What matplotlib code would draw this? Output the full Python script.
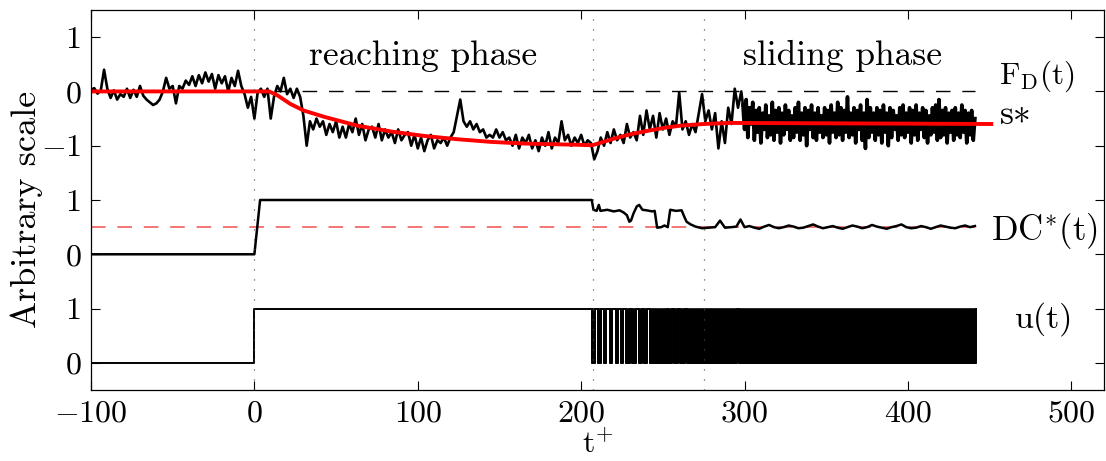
import numpy as np
import matplotlib
matplotlib.use("Agg")
import matplotlib.pyplot as plt

# ---------------- data ----------------
# Disturbance force F_D(t): slow part sampled every 2 time units from t = -100
fd_slow = [
    0.03, 0.06, -0.04, 0.02, 0.40, 0.05, -0.12, 0.02, -0.15, -0.05,
    -0.10, 0.05, -0.12, 0.03, -0.10, 0.10, -0.08, -0.15, -0.20, -0.25,
    -0.22, -0.15, 0.00, 0.25, 0.05, 0.10, -0.22, 0.10, 0.05, 0.20,
    0.12, 0.28, 0.10, 0.30, 0.15, 0.35, 0.18, 0.32, 0.05, 0.30,
    0.15, 0.28, 0.00, 0.25, 0.10, 0.38, 0.10, -0.05, -0.30, -0.10,
    -0.50, -0.02, 0.05, -0.10, 0.05, -0.50, -0.10, 0.10, 0.00, 0.25,
    -0.05, 0.05, -0.12, 0.05, -0.10, -0.45, -1.00, -0.55, -0.70, -0.50,
    -0.65, -0.55, -0.80, -0.60, -0.75, -0.55, -0.85, -0.65, -0.85, -0.60,
    -0.75, -0.50, -0.80, -0.60, -0.90, -0.70, -0.65, -0.85, -0.60, -0.90,
    -0.70, -0.85, -0.75, -0.95, -0.70, -0.90, -0.80, -0.75, -1.00, -0.80,
    -1.05, -0.85, -1.10, -0.90, -0.80, -1.05, -0.90, -0.95, -0.85, -1.00,
    -0.85, -0.75, -0.45, -0.15, -0.55, -0.65, -0.55, -0.70, -0.60, -0.75,
    -0.70, -0.85, -0.80, -0.85, -0.70, -0.85, -0.75, -0.90, -0.85, -1.00,
    -0.80, -1.05, -0.85, -0.95, -0.80, -1.05, -0.90, -1.10, -0.85, -1.00,
    -0.75, -1.05, -0.85, -0.95, -0.55, -0.90, -0.80, -1.00, -0.85, -0.95,
    -0.80, -1.00, -0.90, -0.95, -1.25, -1.10, -0.85, -1.00, -0.75, -0.95,
    -0.70, -0.90, -0.80, -0.95, -0.60, -0.85, -0.75, -0.90, -0.45, -0.80,
    -0.35, -0.70, -0.45, -0.85, -0.40, -0.70, -0.50, -0.80, -0.55, -0.65,
    -0.02, -0.70, -0.55, -0.80, -0.60, -0.75, -0.40, -0.05, -0.55, -0.35,
    -0.70, -0.40, -1.05, -0.55, -0.95, -0.30, -0.60, 0.05, -0.30, 0.00,
]
fd_slow_start = -100
fd_slow_step = 2

# F_D(t) in the sliding phase: fast oscillation sampled every time unit from t = 299
fd_fast = [
    -0.25, -0.70, -0.15, -0.85, -0.30, -0.60, -0.20, -0.90, -0.35, -0.75,
    -0.30, -0.95, -0.40, -0.70, -0.25, -0.85, -0.45, -0.80, -0.20, -0.90,
    -0.35, -0.75, -0.30, -0.95, -0.40, -0.80, -0.25, -0.70, -0.35, -0.90,
    -0.45, -0.85, -0.30, -0.75, -0.20, -0.90, -0.40, -0.80, -0.30, -1.00,
    -0.35, -0.70, -0.25, -0.85, -0.40, -0.90, -0.30, -0.75, -0.45, -0.85,
    -0.30, -0.80, -0.35, -0.95, -0.25, -0.75, -0.40, -0.85, -0.20, -0.80,
    -0.30, -0.90, -0.35, -0.75, -0.10, -0.85, -0.40, -0.80, -0.30, -0.95,
    -0.35, -0.70, -0.25, -0.90, -0.40, -1.05, -0.15, -0.85, -0.30, -0.75,
    -0.40, -0.90, -0.30, -0.80, -0.35, -0.95, -0.25, -0.75, -0.40, -1.00,
    -0.30, -0.85, -0.35, -0.70, -0.45, -0.90, -0.30, -0.80, -0.25, -0.85,
    -0.40, -0.75, -0.30, -0.95, -0.35, -0.80, -0.25, -0.90, -0.40, -0.70,
    -0.30, -0.85, -0.35, -0.95, -0.45, -0.80, -0.30, -0.75, -0.25, -0.90,
    -0.15, -0.85, -0.35, -0.80, -0.30, -0.95, -0.40, -0.75, -0.35, -0.90,
    -0.30, -0.80, -0.40, -0.85, -0.25, -0.75, -0.35, -0.95, -0.40, -0.80,
    -0.35, -0.90, -0.50,
]
fd_fast_start = 299
fd_fast_step = 1

# Sliding surface estimate s*
s_t = [-100, 9, 14, 22, 30, 43, 63, 84, 104, 124, 145, 165, 194, 207,
       220, 230, 240, 251, 261, 275, 291, 451]
s_v = [0.0, 0.0, -0.07, -0.23, -0.35, -0.47, -0.63, -0.74, -0.82, -0.88,
       -0.93, -0.96, -0.98, -0.99, -0.87, -0.79, -0.73, -0.67, -0.63,
       -0.60, -0.58, -0.60]

# Duty cycle DC*(t): reaching-phase breakpoints
dc_t = [-100, 0, 3.5, 206.5, 207.5, 209.5, 210.8, 211.8, 216, 220, 223.5,
        226, 228, 229.5, 230.5, 232, 234, 235.5, 237.5, 240, 243.5, 245,
        246.5, 249, 251, 253, 254.5, 258, 261.5, 263, 264.5, 267, 270,
        274, 278, 282, 285, 288, 292, 295, 297.5]
dc_v = [0.0, 0.0, 1.0, 1.0, 0.82, 0.80, 0.91, 0.80, 0.82, 0.79, 0.81,
        0.77, 0.72, 0.60, 0.62, 0.75, 0.88, 0.91, 0.82, 0.81, 0.79, 0.80,
        0.49, 0.50, 0.53, 0.50, 0.82, 0.80, 0.81, 0.70, 0.60, 0.55, 0.51,
        0.48, 0.49, 0.50, 0.62, 0.49, 0.50, 0.51, 0.64]
# Duty cycle in the sliding phase, every 3 time units from t = 300
dc_late = [0.50, 0.52, 0.49, 0.47, 0.51, 0.54, 0.50, 0.48, 0.50, 0.53,
           0.51, 0.48, 0.49, 0.52, 0.55, 0.51, 0.48, 0.50, 0.52, 0.49,
           0.47, 0.50, 0.53, 0.51, 0.48, 0.50, 0.54, 0.51, 0.49, 0.47,
           0.50, 0.52, 0.55, 0.50, 0.48, 0.49, 0.52, 0.50, 0.47, 0.50,
           0.53, 0.51, 0.49, 0.48, 0.51, 0.53, 0.50, 0.52]
dc_late_start = 300
dc_late_step = 3
dc_target = 0.5

# Control signal u(t): on from t = 0, chattering bursts afterwards
u_on = 0.0
u_end = 441.5
u_bursts = [(206.8, 208.4), (210.4, 211.9), (213.9, 215.4), (217.6, 219.0),
            (221.1, 222.5), (224.5, 225.8), (227.6, 229.6), (231.3, 233.3),
            (235.4, 237.0), (238.4, 240.5), (242.1, 252.3), (253.1, 255.4),
            (256.8, 259.2), (260.4, 263.5), (264.5, 295.6), (296.6, 441.5)]

signal_end = 441
phase_bounds = [0, 207, 275]

# Vertical offsets of the three stacked traces
off_fd, off_dc, off_u = 5, 2, 0

x_ticks = [-100, 0, 100, 200, 300, 400, 500]
x_ticklabels = ['$-100$', '0', '100', '200', '300', '400', '500']
y_ticks = [0, 1, 2, 3, 4, 5, 6]
y_ticklabels = ['0', '1', '0', '1', '$-1$', '0', '1']

# ---------------- style ----------------
plt.rcParams['font.family'] = 'cmr10'
plt.rcParams['mathtext.fontset'] = 'cm'
plt.rcParams['axes.formatter.use_mathtext'] = True
plt.rcParams['lines.scale_dashes'] = False
FS_TICK = 23
FS_TEXT = 25.5

fig = plt.figure(figsize=(11.06, 4.61), dpi=100)
ax = fig.add_axes([91 / 1106, 71 / 461, (1104 - 91) / 1106, (390 - 10) / 461])

# ---------------- F_D(t) and s* ----------------
t_slow = fd_slow_start + fd_slow_step * np.arange(len(fd_slow))
t_fast = fd_fast_start + fd_fast_step * np.arange(len(fd_fast))

ax.plot([-100, signal_end], [off_fd, off_fd], color='black', lw=1.0,
        dashes=(10.5, 8.5))
ax.plot(np.append(t_slow, t_fast[0]), np.append(fd_slow, fd_fast[0]) + off_fd,
        color='black', lw=1.9)
# the fast oscillation is dense enough to read as a solid band
ax.plot(t_fast, np.array(fd_fast) + off_fd, color='black', lw=2.6,
        solid_joinstyle='round')
ax.plot(s_t, np.array(s_v) + off_fd, color='red', lw=2.8)

# ---------------- DC*(t) ----------------
t_dc_late = dc_late_start + dc_late_step * np.arange(len(dc_late))
t_dc = np.concatenate([dc_t, t_dc_late])
v_dc = np.concatenate([dc_v, dc_late])
ax.plot([-100, signal_end], [dc_target + off_dc] * 2, color='#f26b6b',
        lw=1.3, dashes=(10.5, 8.5))
ax.plot(t_dc, v_dc + off_dc, color='black', lw=1.8)

# ---------------- u(t) ----------------
ut = [-100, u_on, u_on]
uv = [0, 0, 1]
for s, e in u_bursts:
    ut += [s, s, e, e]
    uv += [1, 0, 0, 1]
ut.append(u_end)
uv.append(1)
ax.plot(ut, np.array(uv) + off_u, color='black', lw=1.4)
for s, e in u_bursts:
    ax.fill_between([s, e], [off_u, off_u], [off_u + 1, off_u + 1],
                    color='black', lw=1.2)

# ---------------- phase boundaries ----------------
for xb in phase_bounds:
    ax.axvline(xb, color='0.3', lw=0.9, dashes=(0.8, 6.4))

# ---------------- annotations ----------------
ax.text(103, 5.48, 'reaching phase', fontsize=FS_TEXT, ha='center', va='baseline')
ax.text(360, 5.48, 'sliding phase', fontsize=FS_TEXT, ha='center', va='baseline')
ax.text(455.5, 5.28, r'$\mathrm{F_D(t)}$', fontsize=22.5, ha='left', va='center')
ax.text(455.5, 4.40, r'$\mathrm{s}{\ast}$', fontsize=FS_TEXT, ha='left', va='baseline')
ax.text(451, 2.42, r'$\mathrm{DC^{*}(t)}$', fontsize=25, ha='left', va='center')
ax.text(465, 0.80, 'u(t)', fontsize=24.5, ha='left', va='center')

# ---------------- axes ----------------
ax.set_xlim(-100, 520)
ax.set_ylim(-0.5, 6.5)
ax.set_xticks(x_ticks)
ax.set_xticklabels(x_ticklabels)
ax.set_yticks(y_ticks)
ax.set_yticklabels(y_ticklabels)
ax.tick_params(direction='in', top=True, right=True, length=6.5, width=0.8,
               labelsize=FS_TICK, pad=7)
for sp in ax.spines.values():
    sp.set_linewidth(0.9)

ax.set_xlabel(r'$\mathrm{t}^{+}$', fontsize=23)
ax.xaxis.set_label_coords(0.5, -0.105)
ax.xaxis.label.set_va('top')
ax.set_ylabel('Arbitrary scale', fontsize=26)
ax.yaxis.set_label_coords(-0.047, 0.474)

fig.savefig('out.png', dpi=100)
